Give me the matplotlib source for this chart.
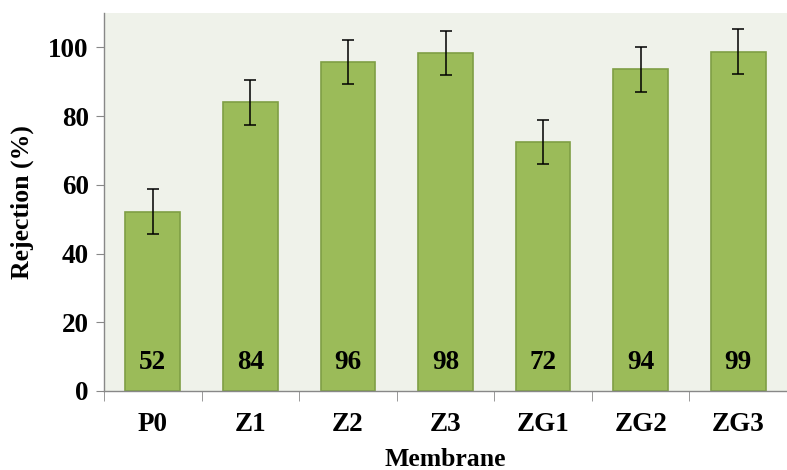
import matplotlib.pyplot as plt
import numpy as np

membranes = ['P0', 'Z1', 'Z2', 'Z3', 'ZG1', 'ZG2', 'ZG3']
rejection = [52.2, 84.0, 95.7, 98.4, 72.5, 93.6, 98.7]
errors = [6.5, 6.5, 6.5, 6.5, 6.5, 6.5, 6.5]
labels = ['52', '84', '96', '98', '72', '94', '99']

plt.rcParams['font.family'] = ['Liberation Serif', 'DejaVu Serif']
plt.rcParams['font.weight'] = 'bold'

fig = plt.figure(figsize=(7.87, 4.70), dpi=100)
ax = fig.add_axes([104/787, 79/470, 683/787, 378/470])
ax.set_facecolor('#eff2ea')

x = np.arange(len(membranes))
ax.bar(x, rejection, width=0.56, color='#9bbb59', edgecolor='#7f9f45', linewidth=1.2,
       yerr=errors, error_kw=dict(ecolor='black', elinewidth=1.1, capsize=4.4, capthick=1.1))

for xi, lab in zip(x, labels):
    ax.text(xi, 8.2, lab, ha='center', va='center', fontsize=19.5, fontweight='bold')

ax.set_xlim(-0.5, len(membranes) - 0.5)
ax.set_ylim(0, 110)
ax.set_yticks([0, 20, 40, 60, 80, 100])
ax.set_xticks(x)
ax.set_xticklabels(membranes)
ax.set_xticks(np.arange(len(membranes) + 1) - 0.5, minor=True)
ax.tick_params(axis='x', which='major', length=0, pad=15, labelsize=19.5)
ax.tick_params(axis='x', which='minor', length=7, color='#888888')
ax.tick_params(axis='y', length=6, color='#888888', labelsize=19.5, pad=5)

for s in ['top', 'right']:
    ax.spines[s].set_visible(False)
for s in ['left', 'bottom']:
    ax.spines[s].set_color('#888888')
    ax.spines[s].set_linewidth(1.0)

ax.set_ylabel('Rejection (%)', fontsize=18.5, fontweight='bold', labelpad=10)
ax.set_xlabel('Membrane', fontsize=18.5, fontweight='bold', labelpad=8)

fig.savefig('out.png', dpi=100)
